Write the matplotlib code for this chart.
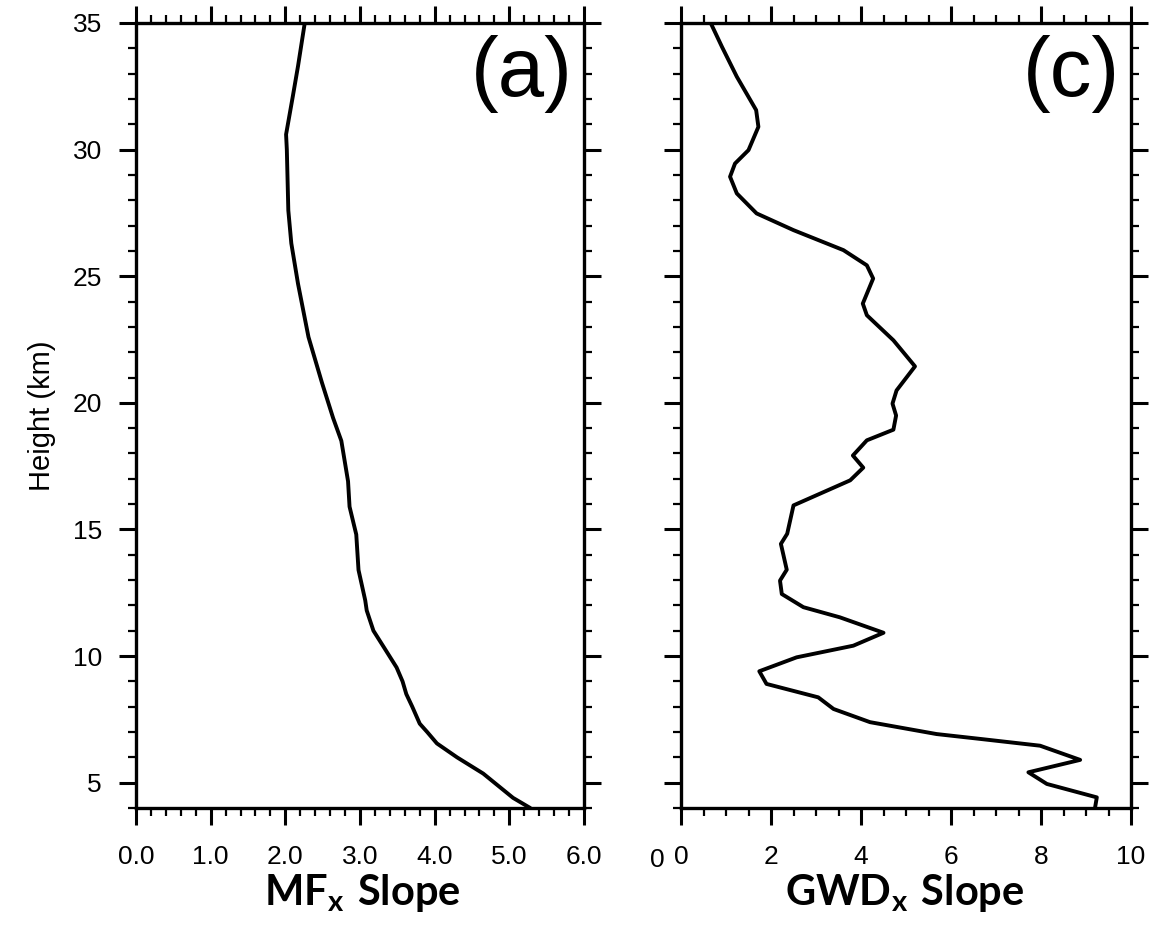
import matplotlib
matplotlib.use("Agg")
import matplotlib.pyplot as plt
from matplotlib.ticker import MultipleLocator, FormatStrFormatter

plt.rcParams['font.family'] = ['Liberation Sans', 'DejaVu Sans']
plt.rcParams['mathtext.fontset'] = 'custom'
plt.rcParams['mathtext.bf'] = 'Lato:bold'
plt.rcParams['mathtext.rm'] = 'Lato'

# ---- data ----
mf_height = [4.0, 4.4, 5.0, 5.36, 6.0, 6.55, 7.0, 7.33, 8.0, 8.5, 9.0, 9.55, 10.3,
             11.0, 11.8, 12.2, 13.4, 14.8, 15.9, 16.9, 18.5, 19.4, 20.8, 22.6,
             24.7, 26.3, 27.6, 30.0, 30.6, 32.1, 33.3, 35.0]
mf_slope = [5.28, 5.05, 4.80, 4.65, 4.30, 4.03, 3.90, 3.80, 3.70, 3.62, 3.57, 3.49, 3.33,
            3.18, 3.09, 3.07, 2.98, 2.95, 2.86, 2.84, 2.75, 2.64, 2.49, 2.31,
            2.17, 2.08, 2.04, 2.02, 2.01, 2.10, 2.17, 2.26]

gwd_height = [4.0, 4.42, 4.95, 5.41, 5.9, 6.46, 6.73, 6.92, 7.39, 7.91, 8.37, 8.9, 9.4,
              9.95, 10.41, 10.92, 11.53, 11.93, 12.45, 12.98, 13.41, 14.43, 14.83,
              15.95, 16.94, 17.44, 17.92, 18.52, 18.94, 19.5, 19.97, 20.49, 21.44,
              22.47, 23.46, 23.92, 24.91, 25.43, 26.03, 26.82, 27.48, 28.27, 28.93,
              29.45, 29.98, 30.9, 31.56, 32.88, 34.06, 35.0]
gwd_slope = [9.20, 9.24, 8.13, 7.72, 8.87, 7.98, 6.64, 5.68, 4.20, 3.39, 3.05, 1.90, 1.74,
             2.57, 3.83, 4.50, 3.53, 2.72, 2.24, 2.20, 2.35, 2.22, 2.36,
             2.50, 3.76, 4.05, 3.82, 4.13, 4.72, 4.78, 4.70, 4.79, 5.20,
             4.72, 4.13, 4.04, 4.27, 4.13, 3.61, 2.50, 1.68, 1.24, 1.09,
             1.20, 1.50, 1.72, 1.67, 1.24, 0.91, 0.66]

panel_labels = ['(a)', '(c)']
y_ticks = [5, 10, 15, 20, 25, 30, 35]

W, H = 1151, 927
fig = plt.figure(figsize=(W / 100, H / 100), dpi=100)

def fx(px):
    return px / W

def fy(py):
    return 1 - py / H

top, bot = 23, 808
ax1 = fig.add_axes([fx(136), fy(bot), fx(584 - 136), (bot - top) / H])
ax2 = fig.add_axes([fx(681), fy(bot), fx(1131 - 681), (bot - top) / H])

for ax in (ax1, ax2):
    ax.set_ylim(4, 35)
    ax.set_yticks(y_ticks)
    ax.yaxis.set_minor_locator(MultipleLocator(1))
    for s in ax.spines.values():
        s.set_linewidth(2.4)
    ax.tick_params(which='both', direction='out', top=True, right=True,
                   bottom=True, left=True, color='black')
    ax.tick_params(which='major', length=12.5, width=2.2, labelsize=19)
    ax.tick_params(which='minor', length=6, width=1.6)
    ax.tick_params(axis='x', which='major', pad=14)
    ax.tick_params(axis='y', which='major', pad=12)

ax1.plot(mf_slope, mf_height, color='black', lw=2.8,
         solid_joinstyle='round', solid_capstyle='round')
ax1.set_xlim(0, 6)
ax1.xaxis.set_major_locator(MultipleLocator(1))
ax1.xaxis.set_minor_locator(MultipleLocator(0.2))
ax1.xaxis.set_major_formatter(FormatStrFormatter('%.1f'))
ax1.set_ylabel('Height (km)', fontsize=21, labelpad=12)

ax2.plot(gwd_slope, gwd_height, color='black', lw=2.8,
         solid_joinstyle='round', solid_capstyle='round')
ax2.set_xlim(0, 10)
ax2.xaxis.set_major_locator(MultipleLocator(2))
ax2.xaxis.set_minor_locator(MultipleLocator(0.5))
ax2.tick_params(axis='y', labelleft=False)

for ax, lab in zip((ax1, ax2), panel_labels):
    ax.text(0.975, 0.985, lab, transform=ax.transAxes, ha='right', va='top',
            fontsize=60)

# stray "0" label left of right panel
fig.text(fx(657), fy(860), '0', ha='center', va='center', fontsize=19)

fig.text(fx(362), fy(893), r'$\mathbf{MF_{x}\ Slope}$', ha='center', va='center',
         fontsize=30)
fig.text(fx(905), fy(893), r'$\mathbf{GWD_{x}\ Slope}$', ha='center', va='center',
         fontsize=30)

fig.savefig('out.png', dpi=100)
